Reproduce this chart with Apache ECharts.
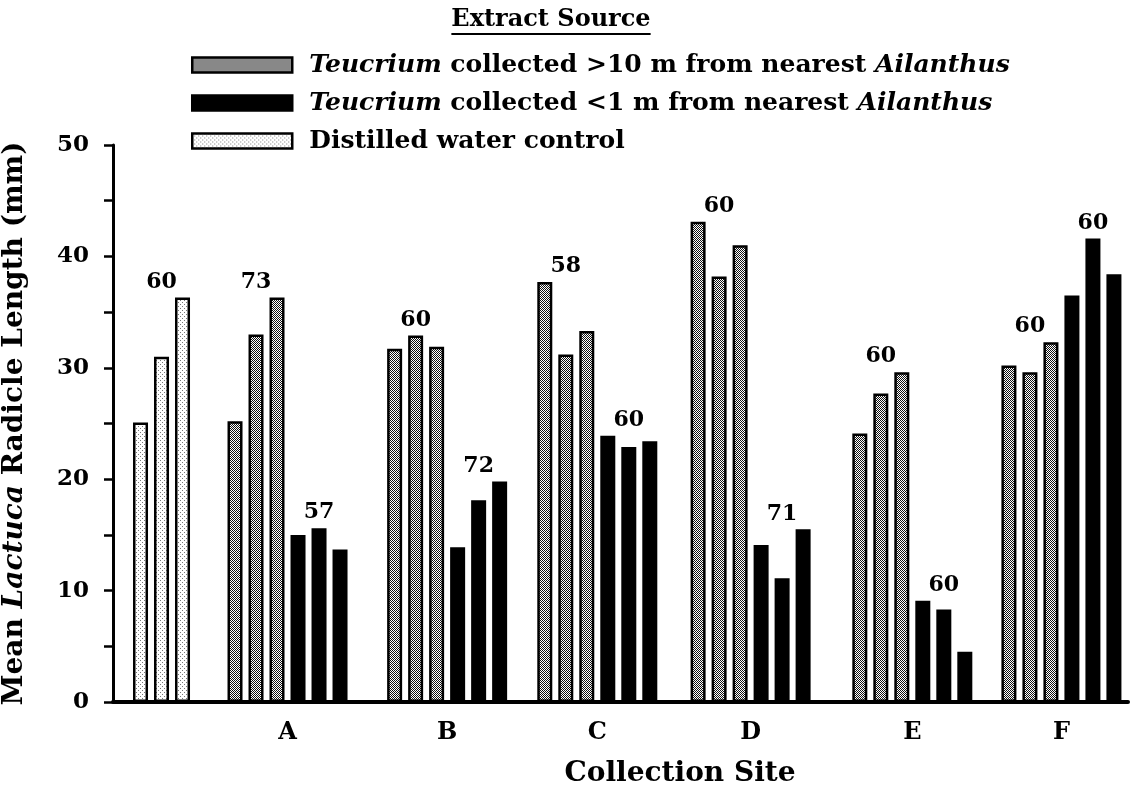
<!DOCTYPE html>
<html>
<head>
<meta charset="utf-8">
<script src="https://cdn.jsdelivr.net/npm/echarts@6/dist/echarts.min.js"></script>
<style>
  html, body { margin: 0; padding: 0; background: #fff; }
  #chart { width: 1135px; height: 791px; }
</style>
</head>
<body>
<div id="chart"></div>
<script>
// ---- data ----------------------------------------------------------------
const sites = ['A', 'B', 'C', 'D', 'E', 'F'];
// Mean Lactuca radicle length (mm), three extracts per site
const farValues  = [[25.2, 33.0, 36.3], [31.7, 32.9, 31.9], [37.7, 31.2, 33.3],
                    [43.1, 38.2, 41.0], [24.1, 27.7, 29.6], [30.2, 29.6, 32.3]];
const nearValues = [[15.0, 15.6, 13.7], [13.9, 18.1, 19.8], [23.9, 22.9, 23.4],
                    [14.1, 11.1, 15.5], [9.1, 8.3, 4.5], [36.5, 41.6, 38.4]];
const controlValues = [25.1, 31.0, 36.3];
// number of seedlings measured, printed above each triplet
const farN = [73, 60, 58, 60, 60, 60];
const nearN = [57, 72, 60, 71, 60, 60];
const controlN = 60;
const yTicks = [0, 10, 20, 30, 40, 50];

const farName = 'Teucrium collected >10 m from nearest Ailanthus';
const nearName = 'Teucrium collected <1 m from nearest Ailanthus';
const ctrlName = 'Distilled water control';

// ---- layout (x in bar-slot units) ----------------------------------------
const controlStart = 0;
const siteStart = [4.5, 12.1, 19.25, 26.55, 34.25, 41.35];
const siteCenter = siteStart.map(s => s + 2.5);

const SERIF = "'DejaVu Serif', 'Liberation Serif', serif";

function makePattern(size, dots, ink) {
  const c = document.createElement('canvas');
  c.width = c.height = size;
  const g = c.getContext('2d');
  g.fillStyle = '#fff';
  g.fillRect(0, 0, size, size);
  g.fillStyle = ink;
  dots.forEach(([x, y]) => g.fillRect(x, y, 1, 1));
  return { image: c, repeat: 'repeat' };
}
const checker = makePattern(2, [[0, 0], [1, 1]], '#111');
const stipple = makePattern(4, [[0, 0], [2, 2]], '#777');

const farData = [], nearData = [], labelData = [];
sites.forEach((s, i) => {
  farValues[i].forEach((v, j) => farData.push([siteStart[i] + j, v]));
  nearValues[i].forEach((v, j) => nearData.push([siteStart[i] + 3 + j, v]));
  labelData.push([siteStart[i] + 1, Math.max(...farValues[i]), farN[i]]);
  labelData.push([siteStart[i] + 4, Math.max(...nearValues[i]), nearN[i]]);
});
const controlData = controlValues.map((v, j) => [controlStart + j, v]);
labelData.push([controlStart + 1, Math.max(...controlValues), controlN]);

const barBase = {
  type: 'bar',
  barWidth: 15,
  barGap: '-100%',
  silent: true
};

const italicRich = { i: { fontFamily: SERIF, fontStyle: 'italic', fontWeight: 'bold', fontSize: 25, color: '#000' } };

// width of the underlined heading
const headFont = "bold 24px 'DejaVu Serif'";
const mctx = document.createElement('canvas').getContext('2d');
mctx.font = headFont;
const headW = mctx.measureText('Extract Source').width;
const headX = 551;

const chart = echarts.init(document.getElementById('chart'), null, { renderer: 'canvas' });
chart.setOption({
  animation: false,
  backgroundColor: '#fff',
  grid: { left: 113, right: 7, top: 145, bottom: 89, containLabel: false, outerBoundsMode: 'none' },
  legend: {
    orient: 'vertical',
    left: 186,
    top: 45,
    icon: 'rect',
    itemWidth: 100,
    itemHeight: 15,
    itemGap: 8,
    selectedMode: false,
    data: [farName, nearName, ctrlName],
    itemStyle: { borderColor: '#000', borderWidth: 2.5 },
    formatter: name => name.replace('Teucrium', '{i|Teucrium}').replace('Ailanthus', '{i|Ailanthus}'),
    textStyle: { fontFamily: SERIF, fontWeight: 'bold', fontSize: 25, color: '#000', lineHeight: 30,
                 padding: [0, 0, 0, 12], rich: italicRich }
  },
  xAxis: {
    type: 'value',
    min: -1.31,
    max: 47.02,
    axisLine: { show: true, onZero: false, lineStyle: { color: '#000', width: 4 } },
    axisTick: { show: false },
    splitLine: { show: false },
    axisLabel: {
      customValues: siteCenter,
      formatter: v => {
        let best = 0;
        siteCenter.forEach((c, i) => { if (Math.abs(c - v) < Math.abs(siteCenter[best] - v)) best = i; });
        return sites[best];
      },
      margin: 19,
      fontFamily: SERIF, fontWeight: 'bold', fontSize: 24, color: '#000'
    }
  },
  yAxis: {
    type: 'value',
    min: 0,
    max: 50,
    interval: 5,
    axisLine: { show: true, onZero: false, lineStyle: { color: '#000', width: 3 } },
    axisTick: { show: true, length: 9, lineStyle: { color: '#000', width: 2.5 } },
    splitLine: { show: false },
    axisLabel: {
      formatter: v => (yTicks.includes(v) ? String(v) : ''),
      margin: 24,
      fontFamily: SERIF, fontWeight: 'bold', fontSize: 23, color: '#000'
    },
    name: 'Mean {i|Lactuca} Radicle Length (mm)',
    nameLocation: 'middle',
    nameRotate: 90,
    nameGap: 84,
    nameTextStyle: {
      fontFamily: SERIF, fontWeight: 'bold', fontSize: 28, color: '#000',
      rich: { i: { fontFamily: SERIF, fontStyle: 'italic', fontWeight: 'bold', fontSize: 28, color: '#000' } }
    }
  },
  series: [
    Object.assign({}, barBase, { name: farName, data: farData,
      itemStyle: { color: checker, borderColor: '#000', borderWidth: 2.5 } }),
    Object.assign({}, barBase, { name: nearName, data: nearData,
      itemStyle: { color: '#000', borderColor: '#000', borderWidth: 2.5 } }),
    Object.assign({}, barBase, { name: ctrlName, data: controlData,
      itemStyle: { color: stipple, borderColor: '#000', borderWidth: 2.5 } }),
    {
      type: 'scatter',
      name: 'n',
      data: labelData,
      symbol: 'rect',
      symbolSize: 1,
      silent: true,
      z: 5,
      itemStyle: { color: 'rgba(0,0,0,0)', opacity: 1 },
      label: {
        show: true, position: 'top', distance: 4, opacity: 1,
        formatter: p => String(p.value[2]),
        fontFamily: SERIF, fontWeight: 'bold', fontSize: 22, color: '#000'
      }
    }
  ],
  graphic: [
    { type: 'text', x: headX, y: 20,
      style: { text: 'Extract Source', font: headFont, fill: '#000', align: 'center', verticalAlign: 'middle' } },
    { type: 'line', shape: { x1: headX - headW / 2, y1: 34, x2: headX + headW / 2, y2: 34 },
      style: { stroke: '#000', lineWidth: 2 } },
    { type: 'text', x: 680, y: 774,
      style: { text: 'Collection Site', font: "bold 28px 'DejaVu Serif'", fill: '#000', align: 'center', verticalAlign: 'middle' } }
  ]
});
</script>
</body>
</html>
